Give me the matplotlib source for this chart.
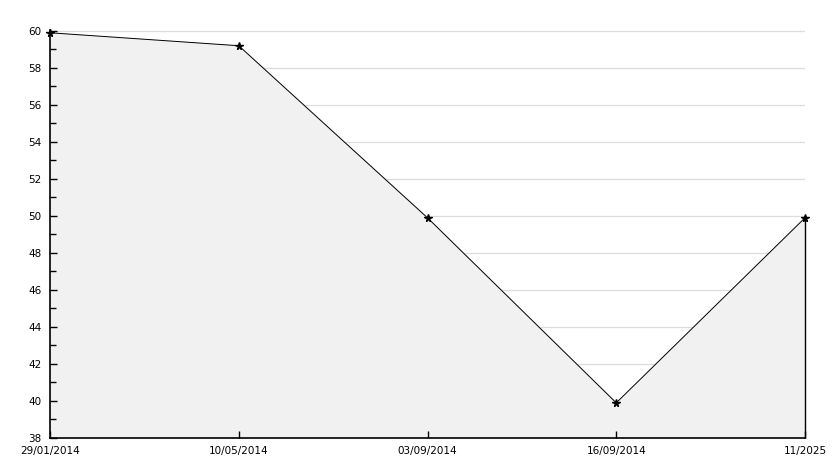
import matplotlib
matplotlib.use("Agg")
import matplotlib.pyplot as plt
import numpy as np
from matplotlib.ticker import MultipleLocator

labels = ["29/01/2014", "10/05/2014", "03/09/2014", "16/09/2014", "11/2025"]
values = [59.9, 59.2, 49.9, 39.9, 49.9]

fig = plt.figure(figsize=(8.34, 4.68), dpi=100)
ax = fig.add_axes([50 / 834, 30 / 468, 755 / 834, 408 / 468])

x = np.arange(len(values))
ax.fill_between(x, values, 38, color="#f1f1f1", zorder=1)
ax.plot(x, values, color="black", lw=0.7, marker="*", ms=5.5, zorder=3, clip_on=False)
ax.vlines(x[-1], 38, values[-1], color="black", lw=1.0, zorder=3, clip_on=False)

ax.set_xlim(0, len(values) - 1)
ax.set_ylim(38, 60.05)
ax.set_xticks(x)
ax.set_xticklabels(labels)
ax.set_yticks(np.arange(38, 61, 2))
ax.yaxis.set_minor_locator(MultipleLocator(1))

for y in np.arange(40, 61, 2):
    ax.axhline(y, color="#dcdcdc", lw=0.9, zorder=0.5)

for s in ["top", "right"]:
    ax.spines[s].set_visible(False)
ax.spines["left"].set_linewidth(1.2)
ax.spines["bottom"].set_linewidth(1.2)

ax.tick_params(axis="y", which="major", direction="in", length=5, width=1, labelsize=7.5, pad=6)
ax.tick_params(axis="y", which="minor", direction="in", length=4, width=1)
ax.tick_params(axis="x", direction="in", length=5, width=1, labelsize=7.5, pad=6)
ax.set_facecolor("white")

plt.savefig("out.png", dpi=100)
